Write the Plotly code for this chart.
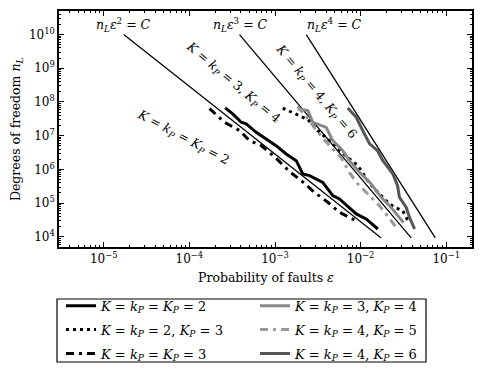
import plotly.graph_objects as go

# K = k_P = K_P = 2
eps_2_2 = [2.62e-4, 3.21e-4, 4.03e-4, 4.61e-4, 6.03e-4, 7.89e-4, 1.03e-3, 1.35e-3, 1.77e-3,
           2.11e-3, 2.53e-3, 3.61e-3, 4.73e-3, 5.66e-3, 7.41e-3, 8.89e-3, 1.16e-2, 1.59e-2]
n_2_2 = [6.68e7, 4.44e7, 2.50e7, 2.24e7, 1.26e7, 8.04e6, 5.08e6, 2.88e6, 1.82e6,
         7.35e5, 6.55e5, 4.14e5, 1.67e5, 1.33e5, 7.50e4, 4.79e4, 3.40e4, 1.71e4]

# K = k_P = 2, K_P = 3
eps_2_3 = [1.23e-3, 1.77e-3, 2.42e-3, 3.16e-3, 4.34e-3, 5.66e-3, 7.41e-3, 9.27e-3, 1.21e-2,
           1.52e-2, 2.08e-2, 2.49e-2, 3.11e-2, 3.56e-2]
n_2_3 = [6.59e7, 4.44e7, 3.01e7, 1.42e7, 7.16e6, 3.61e6, 2.05e6, 1.30e6, 4.66e5,
         2.35e5, 1.06e5, 7.50e4, 5.98e4, 3.03e4]

# K = k_P = K_P = 3
eps_3_3 = [1.72e-4, 2.57e-4, 3.85e-4, 5.04e-4, 6.90e-4, 1.03e-3, 1.48e-3, 2.02e-3, 2.89e-3,
           4.14e-3, 5.66e-3, 7.03e-3, 9.27e-3]
n_3_3 = [6.37e7, 2.50e7, 1.42e7, 7.16e6, 5.08e6, 2.16e6, 8.61e5, 4.66e5, 2.09e5,
         1.06e5, 5.33e4, 3.97e4, 2.82e4]

# K = k_P = 3, K_P = 4
eps_3_4 = [1.85e-3, 2.42e-3, 2.77e-3, 3.96e-3, 4.73e-3, 6.19e-3, 7.41e-3, 9.70e-3, 1.33e-2,
           1.74e-2, 2.18e-2, 2.72e-2, 3.17e-2]
n_3_4 = [6.24e7, 5.56e7, 2.50e7, 1.77e7, 7.16e6, 3.61e6, 1.82e6, 8.20e5, 3.72e5,
         1.49e5, 8.43e4, 4.26e4, 2.64e4]

# K = k_P = 4, K_P = 5
eps_4_5 = [1.83e-3, 2.27e-3, 3.13e-3, 4.34e-3, 5.93e-3, 7.41e-3, 9.20e-3, 1.21e-2, 1.66e-2,
           2.18e-2, 2.56e-2]
n_4_5 = [7.31e7, 3.94e7, 1.32e7, 5.08e6, 2.24e6, 8.04e5, 3.79e5, 1.91e5, 8.43e4,
         3.47e4, 2.01e4]

# K = k_P = 4, K_P = 6
eps_4_6 = [7.08e-3, 8.89e-3, 1.06e-2, 1.27e-2, 1.57e-2, 1.82e-2, 2.38e-2, 2.70e-2, 2.84e-2,
           3.41e-2, 3.72e-2, 4.27e-2]
n_4_6 = [6.68e7, 3.52e7, 1.42e7, 5.83e6, 3.61e6, 1.82e6, 7.35e5, 3.30e5, 1.49e5,
         7.50e4, 3.79e4, 1.71e4]

# reference slopes n_L eps^p = C
ref2_eps = [1.71e-5, 1.74e-2]
ref3_eps = [3.85e-4, 3.90e-2]
ref4_eps = [2.32e-3, 7.45e-2]
ref_n = [1.0e10, 9.3e3]

xtick_vals = [1e-5, 1e-4, 1e-3, 1e-2, 1e-1]
xtick_text = ['10<sup>−5</sup>', '10<sup>−4</sup>', '10<sup>−3</sup>', '10<sup>−2</sup>', '10<sup>−1</sup>']
ytick_vals = [1e4, 1e5, 1e6, 1e7, 1e8, 1e9, 1e10]
ytick_text = ['10<sup>%d</sup>' % p for p in range(4, 11)]

SERIF = 'DejaVu Serif'

series = [
    (eps_2_2, n_2_2, '<i>K</i> = <i>k<sub>P</sub></i> = <i>K<sub>P</sub></i> = 2', 'black', 'solid', 'legend'),
    (eps_2_3, n_2_3, '<i>K</i> = <i>k<sub>P</sub></i> = 2, <i>K<sub>P</sub></i> = 3', 'black', '3px,4px', 'legend'),
    (eps_3_3, n_3_3, '<i>K</i> = <i>k<sub>P</sub></i> = <i>K<sub>P</sub></i> = 3', 'black', '8px,5px,3px,5px', 'legend'),
    (eps_3_4, n_3_4, '<i>K</i> = <i>k<sub>P</sub></i> = 3, <i>K<sub>P</sub></i> = 4', '#888888', 'solid', 'legend2'),
    (eps_4_5, n_4_5, '<i>K</i> = <i>k<sub>P</sub></i> = 4, <i>K<sub>P</sub></i> = 5', '#999999', '8px,5px,3px,5px', 'legend2'),
    (eps_4_6, n_4_6, '<i>K</i> = <i>k<sub>P</sub></i> = 4, <i>K<sub>P</sub></i> = 6', '#555555', 'solid', 'legend2'),
]

fig = go.Figure()

for ref_eps in (ref2_eps, ref3_eps, ref4_eps):
    fig.add_trace(go.Scatter(x=ref_eps, y=ref_n, mode='lines', showlegend=False,
                             line=dict(color='black', width=1.3)))

for i, (eps, n, name, color, dash, leg) in enumerate(series):
    fig.add_trace(go.Scatter(x=eps, y=n, mode='lines', name=name, legend=leg,
                             legendgroup='g%d' % i,
                             line=dict(color=color, width=3, dash=dash)))

# slope labels
for xl, txt in [(-4.764, '<i>n<sub>L</sub>ε</i><sup>2</sup> = <i>C</i>'),
                (-3.403, '<i>n<sub>L</sub>ε</i><sup>3</sup> = <i>C</i>'),
                (-2.305, '<i>n<sub>L</sub>ε</i><sup>4</sup> = <i>C</i>')]:
    fig.add_annotation(x=xl, y=10.27, text=txt, showarrow=False,
                       font=dict(family=SERIF, size=12.5, color='black'))

for xl, yl, ang, txt in [
        (-4.078, 6.944, 28, '<i>K</i> = <i>k<sub>P</sub></i> = <i>K<sub>P</sub></i> = 2'),
        (-3.494, 8.576, 40, '<i>K</i> = <i>k<sub>P</sub></i> = 3, <i>K<sub>P</sub></i> = 4'),
        (-2.524, 8.309, 50, '<i>K</i> = <i>k<sub>P</sub></i> = 4, <i>K<sub>P</sub></i> = 6')]:
    fig.add_annotation(x=xl, y=yl, text=txt, showarrow=False, textangle=ang,
                       font=dict(family=SERIF, size=12.5, color='black'))

# axis titles as paper annotations
fig.add_annotation(x=0.5, y=-0.131, xref='paper', yref='paper', showarrow=False,
                   xanchor='center', yanchor='middle',
                   text='Probability of faults <i>ε</i>',
                   font=dict(family=SERIF, size=12.5, color='black'))
fig.add_annotation(x=-0.104, y=0.5, xref='paper', yref='paper', showarrow=False,
                   xanchor='center', yanchor='middle', textangle=-90,
                   text='Degrees of freedom <i>n<sub>L</sub></i>',
                   font=dict(family=SERIF, size=12.5, color='black'))

axis_common = dict(
    type='log', showgrid=False, zeroline=False, showline=True, linecolor='black',
    linewidth=1.5, mirror='allticks', ticks='inside', ticklen=5, tickwidth=1,
    tickcolor='black', tickfont=dict(family=SERIF, size=12, color='black'),
    minor=dict(ticks='inside', ticklen=2.5, tickwidth=0.8, tickcolor='black',
               dtick='D1', showgrid=False),
)

fig.update_xaxes(axis_common, range=[-5.523, -0.699], tickmode='array',
                 tickvals=xtick_vals, ticktext=xtick_text)
fig.update_yaxes(axis_common, range=[3.699, 10.699], tickmode='array',
                 tickvals=ytick_vals, ticktext=ytick_text)

legend_style = dict(orientation='v', yanchor='top', xanchor='left',
                    xref='container', yref='container', y=0.2185,
                    bgcolor='rgba(0,0,0,0)', borderwidth=0, tracegroupgap=4,
                    font=dict(family=SERIF, size=13, color='black'))

# legend frame
fig.add_shape(type='rect', xref='paper', yref='paper', x0=-0.0048, x1=0.8886,
              y0=-0.2203, y1=-0.4873, line=dict(color='black', width=1.2),
              fillcolor='white', layer='below')

fig.update_layout(
    width=482, height=372,
    margin=dict(l=59, r=10, t=11, b=125, autoexpand=False),
    plot_bgcolor='white', paper_bgcolor='white',
    font=dict(family=SERIF, size=12, color='black'),
    legend=dict(legend_style, x=0.1266),
    legend2=dict(legend_style, x=0.529),
)

fig.write_html('out.html', config={'displayModeBar': False},
               post_script="document.body.style.margin='0px';")
